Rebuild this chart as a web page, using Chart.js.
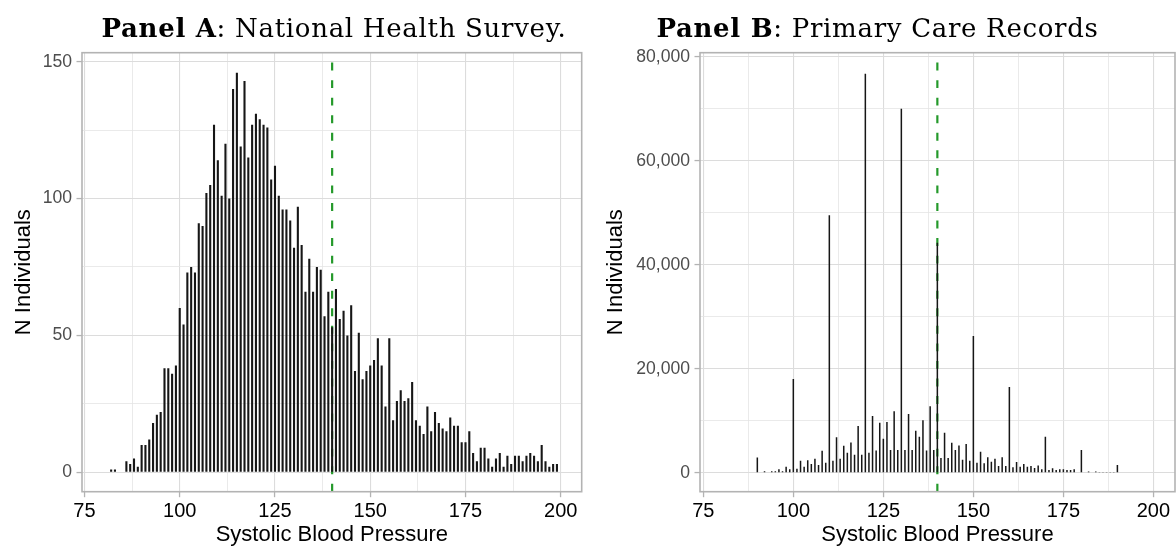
<!DOCTYPE html>
<html>
<head>
<meta charset="utf-8">
<script src="https://cdn.jsdelivr.net/npm/chart.js@4.4.1/dist/chart.umd.min.js"></script>
<style>
  html, body { margin: 0; padding: 0; background: #ffffff; }
  #wrap { position: relative; width: 1176px; height: 550px; overflow: hidden; background: #fff; }
  .panel { position: absolute; top: 0; height: 550px; }
  #pa { left: 0; width: 590px; }
  #pb { left: 590px; width: 586px; }
</style>
</head>
<body>
<div id="wrap">
  <div class="panel" id="pa"><canvas id="ca" width="590" height="550"></canvas></div>
  <div class="panel" id="pb"><canvas id="cb" width="586" height="550"></canvas></div>
</div>
<script>
// ---- Panel A: National Health Survey (counts per mmHg) ----
const sbpA = [82, 83, 84, 85, 86, 87, 88, 89, 90, 91, 92, 93, 94, 95, 96, 97, 98, 99,
  100, 101, 102, 103, 104, 105, 106, 107, 108, 109, 110, 111, 112, 113, 114, 115, 116, 117, 118, 119,
  120, 121, 122, 123, 124, 125, 126, 127, 128, 129, 130, 131, 132, 133, 134, 135, 136, 137, 138, 139,
  140, 141, 142, 143, 144, 145, 146, 147, 148, 149, 150, 151, 152, 153, 154, 155, 156, 157, 158, 159,
  160, 161, 162, 163, 164, 165, 166, 167, 168, 169, 170, 171, 172, 173, 174, 175, 176, 177, 178, 179,
  180, 181, 182, 183, 184, 185, 186, 187, 188, 189, 190, 191, 192, 193, 194, 195, 196, 197, 198, 199];
const countA = [1, 1, 0, 0, 4, 3, 5, 2, 10, 10, 12, 18, 21, 22, 38, 38, 36, 39,
  60, 54, 73, 75, 73, 91, 90, 102, 105, 127, 114, 101, 120, 100, 140, 146, 119, 143, 115, 127,
  131, 129, 127, 126, 107, 112, 101, 96, 96, 92, 82, 97, 83, 66, 78, 66, 75, 74, 57, 66,
  53, 67, 56, 59, 50, 61, 37, 51, 34, 37, 39, 41, 49, 39, 24, 49, 19, 26, 30, 26,
  27, 33, 19, 17, 14, 24, 15, 22, 18, 16, 15, 20, 17, 17, 11, 11, 15, 7, 4, 9,
  9, 5, 2, 5, 7, 2, 6, 3, 6, 6, 4, 6, 7, 6, 4, 10, 4, 2, 3, 3];

// ---- Panel B: Primary Care Records (counts per mmHg) ----
const sbpB = [90, 91, 92, 93, 94, 95, 96, 97, 98, 99,
  100, 101, 102, 103, 104, 105, 106, 107, 108, 109, 110, 111, 112, 113, 114, 115, 116, 117, 118, 119,
  120, 121, 122, 123, 124, 125, 126, 127, 128, 129, 130, 131, 132, 133, 134, 135, 136, 137, 138, 139,
  140, 141, 142, 143, 144, 145, 146, 147, 148, 149, 150, 151, 152, 153, 154, 155, 156, 157, 158, 159,
  160, 161, 162, 163, 164, 165, 166, 167, 168, 169, 170, 171, 172, 173, 174, 175, 176, 177, 178, 179,
  180, 181, 182, 183, 184, 185, 186, 187, 188, 189, 190];
const countB = [2900, 100, 300, 100, 300, 300, 640, 300, 1150, 640,
  18000, 770, 2300, 1150, 2400, 1650, 2700, 1500, 4200, 1900, 49500, 2300, 6800, 2700, 5200, 3850, 5800, 3450, 9000, 3450,
  76700, 3850, 10900, 4250, 9600, 6550, 9750, 4350, 11800, 4350, 70000, 4350, 11300, 4350, 8050, 6900, 10100, 4250, 12800, 4350,
  44200, 2850, 7700, 2850, 5750, 4350, 5250, 2500, 5500, 2300, 26300, 1900, 4050, 1800, 2950, 2100, 2700, 1300, 2950, 1300,
  16500, 1050, 2050, 1150, 1650, 1150, 1300, 900, 1400, 650, 6900, 500, 850, 500, 650, 650, 500, 500, 650, 100,
  4350, 100, 250, 100, 250, 50, 50, 50, 50, 50, 1500];

// ---- axis ticks ----
const xMajor = [75, 100, 125, 150, 175, 200];
const xMinor = [87.5, 112.5, 137.5, 162.5, 187.5];
const yMajorA = [0, 50, 100, 150];
const yMinorA = [25, 75, 125];
const yMajorB = [0, 20000, 40000, 60000, 80000];
const yMinorB = [10000, 30000, 50000, 70000];

// hypertension threshold (mmHg)
const threshold = 140;

const SANS = '"Liberation Sans", Arial, Helvetica, sans-serif';
const SERIF = '"DejaVu Serif", "Liberation Serif", serif';

// Titles, dashed threshold line and panel frame
const panelDeco = {
  id: 'panelDeco',
  beforeDatasetsDraw(chart, args, opts) {
    const {ctx, chartArea: a, scales: {x}} = chart;
    const px = x.getPixelForValue(opts.threshold);
    ctx.save();
    ctx.beginPath();
    ctx.rect(a.left, a.top, a.right - a.left, a.bottom - a.top);
    ctx.clip();
    ctx.strokeStyle = '#24992a';
    ctx.lineWidth = 2.2;
    ctx.setLineDash([7.9, 9.65]);
    ctx.beginPath();
    ctx.moveTo(px, a.bottom);
    ctx.lineTo(px, a.top);
    ctx.stroke();
    ctx.restore();
  },
  afterDraw(chart, args, opts) {
    const {ctx, chartArea: a} = chart;
    ctx.save();
    ctx.strokeStyle = '#b3b3b3';
    ctx.lineWidth = 1.6;
    ctx.strokeRect(a.left, a.top, a.right - a.left, a.bottom - a.top);
    // title: bold label followed by plain description
    const boldFont = 'bold ' + opts.size + 'px ' + SERIF;
    const plainFont = opts.size + 'px ' + SERIF;
    if ('letterSpacing' in ctx) ctx.letterSpacing = opts.spacing + 'px';
    ctx.font = boldFont;
    const wb = ctx.measureText(opts.bold).width;
    ctx.font = plainFont;
    const wr = ctx.measureText(opts.rest).width;
    const x0 = opts.cx - (wb + wr) / 2;
    ctx.fillStyle = '#000';
    ctx.textBaseline = 'alphabetic';
    ctx.textAlign = 'left';
    ctx.font = boldFont;
    ctx.fillText(opts.bold, x0, opts.baseline);
    ctx.font = plainFont;
    ctx.fillText(opts.rest, x0 + wb, opts.baseline);
    ctx.restore();
  }
};

function tickList(major, minor) {
  return major.concat(minor).sort((p, q) => p - q).map(v => ({value: v}));
}

function makePanel(canvasId, cfg) {
  const isMajorX = v => xMajor.includes(v);
  const isMajorY = v => cfg.yMajor.includes(v);
  return new Chart(document.getElementById(canvasId), {
    type: 'bar',
    data: {
      datasets: [{
        data: cfg.xs.map((v, i) => ({x: v, y: cfg.ys[i]})),
        backgroundColor: '#161616',
        borderWidth: 0,
        barPercentage: cfg.barPct,
        categoryPercentage: 1,
        grouped: false
      }]
    },
    options: {
      responsive: false,
      animation: false,
      events: [],
      layout: {padding: {top: 52.7, left: 0, right: cfg.padRight, bottom: 0}},
      plugins: {
        legend: {display: false},
        tooltip: {enabled: false},
        panelDeco: {threshold: threshold, bold: cfg.titleBold, rest: cfg.titleRest,
                    cx: cfg.titleCx, baseline: 36.5, size: 26, spacing: 0.7}
      },
      scales: {
        x: {
          type: 'linear',
          min: cfg.xMin,
          max: cfg.xMax,
          offset: false,
          afterBuildTicks: s => { s.ticks = tickList(xMajor, xMinor); },
          afterFit: s => { s.height = 58.3; },
          ticks: {
            autoSkip: false, maxRotation: 0, padding: 2.5,
            color: '#000000',
            font: {family: SANS, size: 20},
            callback: v => isMajorX(v) ? String(v) : ''
          },
          grid: {
            offset: false,
            color: c => isMajorX(c.tick.value) ? '#dcdcdc' : '#e4e4e4',
            lineWidth: c => isMajorX(c.tick.value) ? 1.1 : 0.8,
            tickLength: 5.5,
            tickColor: c => isMajorX(c.tick.value) ? '#b3b3b3' : 'rgba(0,0,0,0)',
            tickWidth: 1.3
          },
          border: {display: false},
          title: {display: true, text: 'Systolic Blood Pressure', color: '#000000',
                  font: {family: SANS, size: 22}, padding: {top: 0, bottom: 1.5}}
        },
        y: {
          type: 'linear',
          min: cfg.yMin,
          max: cfg.yMax,
          afterBuildTicks: s => { s.ticks = tickList(cfg.yMajor, cfg.yMinor); },
          afterFit: s => { s.width = cfg.yWidth; },
          ticks: {
            padding: 4.4,
            color: '#4d4d4d',
            font: {family: SANS, size: 17.6},
            callback: v => isMajorY(v) ? v.toLocaleString('en-US') : ''
          },
          grid: {
            color: c => isMajorY(c.tick.value) ? '#dcdcdc' : '#e4e4e4',
            lineWidth: c => isMajorY(c.tick.value) ? 1.1 : 0.8,
            tickLength: 5.5,
            tickColor: c => isMajorY(c.tick.value) ? '#b3b3b3' : 'rgba(0,0,0,0)',
            tickWidth: 1.3
          },
          border: {display: false},
          title: {display: true, text: 'N Individuals', color: '#000000',
                  font: {family: SANS, size: 22}, padding: {top: cfg.yTitlePad, bottom: 0}}
        }
      }
    },
    plugins: [panelDeco]
  });
}

makePanel('ca', {
  xs: sbpA, ys: countA, barPct: 0.55,
  xMin: 74.35, xMax: 205.5, yMin: -7.1, yMax: 153.3,
  yMajor: yMajorA, yMinor: yMinorA, yWidth: 82, yTitlePad: 11, padRight: 8.3,
  titleBold: 'Panel A', titleRest: ': National Health Survey.', titleCx: 334
});

makePanel('cb', {
  xs: sbpB, ys: countB, barPct: 0.42,
  xMin: 74.08, xMax: 206.0, yMin: -3654, yMax: 80770,
  yMajor: yMajorB, yMinor: yMinorB, yWidth: 110, yTitlePad: 13.1, padRight: 1,
  titleBold: 'Panel B', titleRest: ': Primary Care Records', titleCx: 877.5 - 590
});
</script>
</body>
</html>
